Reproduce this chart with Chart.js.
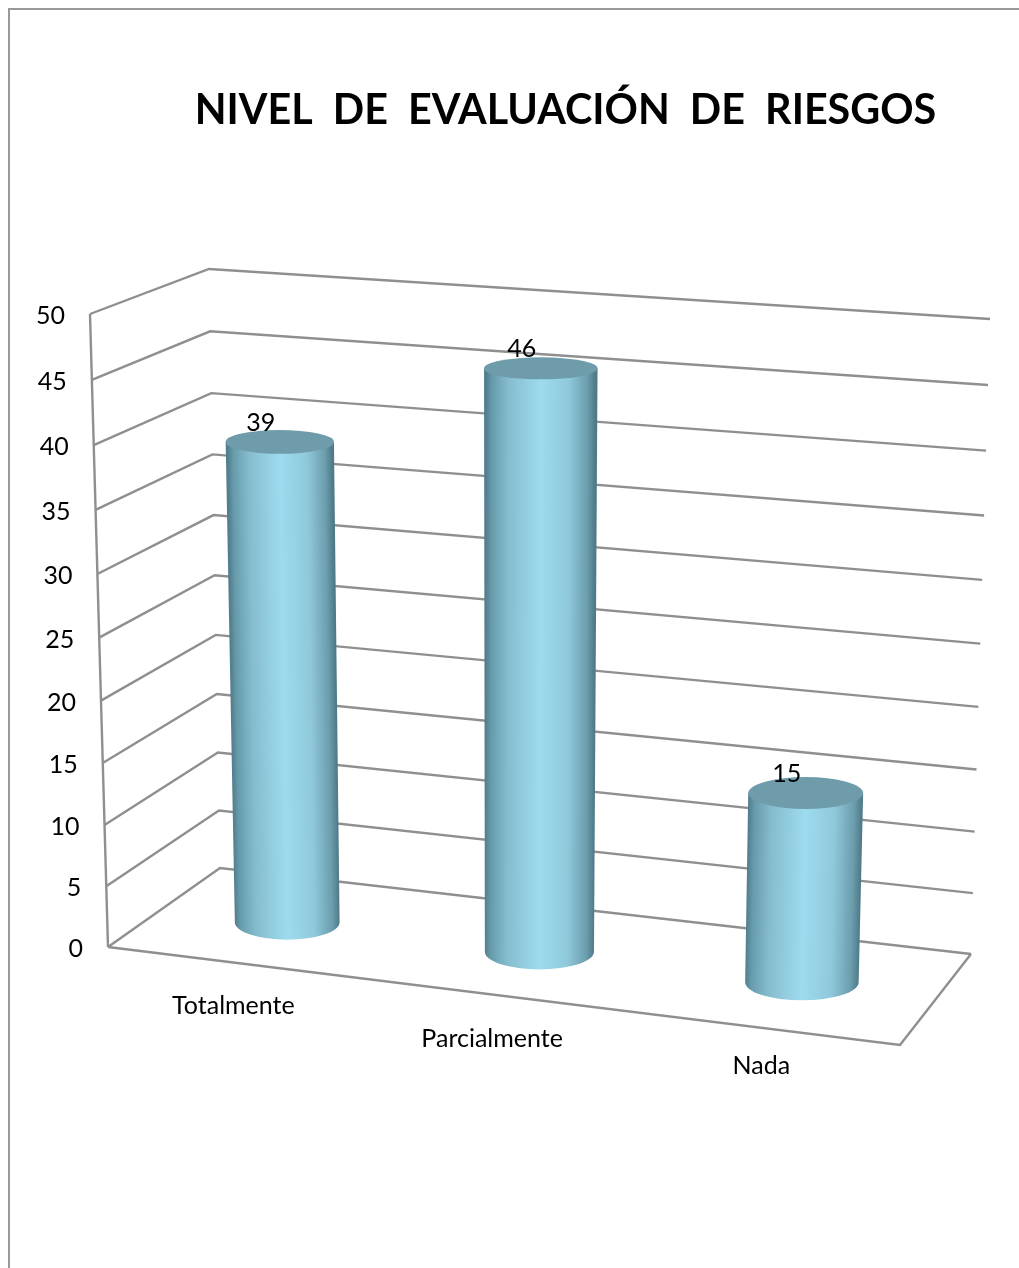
<!DOCTYPE html>
<html>
<head>
<meta charset="utf-8">
<title>Nivel de evaluación de riesgos</title>
<script src="https://cdn.jsdelivr.net/npm/chart.js@4/dist/chart.umd.min.js"></script>
<style>
    html, body { margin: 0; background: #fff; }
    #wrap { position: relative; width: 1019px; height: 1268px; overflow: hidden; }
    #frame { position: absolute; left: 8px; top: 8px; right: 0; bottom: 0; border-left: 2px solid #999; border-top: 2px solid #999; }
    canvas { position: absolute; left: 0; top: 0; }
</style>
</head>
<body>
<div id="wrap">
    <div id="frame"></div>
    <canvas id="riesgos" width="1019" height="1268"></canvas>
</div>
<script>
var chartTitle = 'NIVEL  DE  EVALUACIÓN  DE  RIESGOS';
var categories = ['Totalmente', 'Parcialmente', 'Nada'];
var values = [39, 46, 15];
var yTickValues = [0, 5, 10, 15, 20, 25, 30, 35, 40, 45, 50];

var textFont = 'Lato, "Open Sans", sans-serif';
var gridColor = '#8f8f8f';

// corners of the 3d box, [bottom, top]
var frontLeft = [[108, 947], [90, 314]];
var backLeft = [[220, 868], [209, 269]];
var backRight = [[971, 954], [990, 319]];
var frontRight = [900, 1045];
// plane the cylinders stand in, half way into the box
var barLeft = [[165, 908], [150, 293]];
var barRight = [[937, 998], [956, 339]];
// how far each category label sits under the floor edge
var categoryDrop = [43, 44, 38];

function mix(a, b, k) {
    return [a[0] + (b[0] - a[0]) * k, a[1] + (b[1] - a[1]) * k];
}
// the walls are foreshortened a little towards the floor
function warpHeight(t) {
    return t - 0.045 * t * (1 - t);
}
function warpAcross(f) {
    return f - 0.06 * f * (1 - f);
}
function onEdge(edge, t) {
    return mix(edge[0], edge[1], warpHeight(t));
}
function heightOf(chart, pixel) {
    var area = chart.chartArea;
    return (area.bottom - pixel) / (area.bottom - area.top);
}
function barPoint(f, t) {
    var g = warpAcross(f);
    return mix(onEdge(barLeft, t), onEdge(barRight, t), g);
}
function line(ctx, a, b) {
    ctx.beginPath();
    ctx.moveTo(a[0], a[1]);
    ctx.lineTo(b[0], b[1]);
    ctx.stroke();
}
// flatter ellipse higher up, as seen from above the box
function ellipseHeight(y) {
    return 6.8 + 0.0115 * y;
}

var boxPlugin = {
    id: 'box3d',
    beforeDatasetsDraw: function (chart) {
        var ctx = chart.ctx;
        var yAxis = chart.scales.y;
        ctx.save();
        ctx.strokeStyle = gridColor;
        ctx.lineWidth = 2.4;
        ctx.lineJoin = 'miter';

        // floor
        ctx.beginPath();
        ctx.moveTo(frontLeft[0][0], frontLeft[0][1]);
        ctx.lineTo(frontRight[0], frontRight[1]);
        ctx.lineTo(backRight[0][0], backRight[0][1]);
        ctx.stroke();

        // front edge of the left wall
        line(ctx, frontLeft[0], frontLeft[1]);

        // grid lines, left wall then back wall
        yAxis.ticks.forEach(function (tick) {
            var t = heightOf(chart, yAxis.getPixelForValue(tick.value));
            var a = onEdge(frontLeft, t);
            var b = onEdge(backLeft, t);
            var c = onEdge(backRight, t);
            ctx.beginPath();
            ctx.moveTo(a[0], a[1]);
            ctx.lineTo(b[0], b[1]);
            ctx.lineTo(c[0], c[1]);
            ctx.stroke();
        });

        // y tick labels follow the slanted edge
        ctx.fillStyle = '#000';
        ctx.font = '25px ' + textFont;
        ctx.textAlign = 'right';
        ctx.textBaseline = 'middle';
        yAxis.ticks.forEach(function (tick) {
            var t = heightOf(chart, yAxis.getPixelForValue(tick.value));
            var a = onEdge(frontLeft, t);
            ctx.fillText(String(tick.value), a[0] - 25, a[1] + 2);
        });

        // category labels under the front edge of the floor
        var xAxis = chart.scales.x;
        ctx.textAlign = 'center';
        categories.forEach(function (name, i) {
            var f = (xAxis.getPixelForValue(i) - chart.chartArea.left) / chart.chartArea.width;
            var p = mix(frontLeft[0], frontRight, warpAcross(f));
            ctx.fillText(name, p[0], p[1] + categoryDrop[i]);
        });
        ctx.restore();
    },
    afterDatasetsDraw: function (chart) {
        var ctx = chart.ctx;
        var area = chart.chartArea;
        var meta = chart.getDatasetMeta(0);
        ctx.save();
        meta.data.forEach(function (bar, i) {
            var f = (bar.x - area.left) / area.width;
            var half = bar.width / 2 / area.width;
            var tTop = heightOf(chart, bar.y);
            var tBase = heightOf(chart, bar.base);

            var topL = barPoint(f - half, tTop), topR = barPoint(f + half, tTop);
            var baseL = barPoint(f - half, tBase), baseR = barPoint(f + half, tBase);
            var topC = barPoint(f, tTop), baseC = barPoint(f, tBase);
            var topRx = (topR[0] - topL[0]) / 2, baseRx = (baseR[0] - baseL[0]) / 2;
            var topRy = ellipseHeight(topC[1]), baseRy = ellipseHeight(baseC[1]);

            // body
            var grad = ctx.createLinearGradient(baseC[0] - baseRx, 0, baseC[0] + baseRx, 0);
            grad.addColorStop(0, '#537e8d');
            grad.addColorStop(0.05, '#659aaa');
            grad.addColorStop(0.2, '#85bccd');
            grad.addColorStop(0.5, '#9edbef');
            grad.addColorStop(0.76, '#8fc8da');
            grad.addColorStop(0.93, '#6b9dad');
            grad.addColorStop(1, '#4f7a88');
            ctx.beginPath();
            ctx.moveTo(topC[0] - topRx, topC[1]);
            ctx.lineTo(baseC[0] - baseRx, baseC[1]);
            ctx.ellipse(baseC[0], baseC[1], baseRx, baseRy, 0, Math.PI, 0, true);
            ctx.lineTo(topC[0] + topRx, topC[1]);
            ctx.closePath();
            // shear the shading so it leans with the cylinder
            var lean = (topC[0] - baseC[0]) / (topC[1] - baseC[1]);
            ctx.save();
            ctx.transform(1, 0, lean, 1, -lean * baseC[1], 0);
            ctx.fillStyle = grad;
            ctx.fill();
            ctx.restore();

            // lid
            ctx.fillStyle = '#6f9cab';
            ctx.beginPath();
            ctx.ellipse(topC[0], topC[1], topRx, topRy, 0, 0, Math.PI * 2);
            ctx.fill();

            // value label
            ctx.fillStyle = '#000';
            ctx.font = '25px ' + textFont;
            ctx.textAlign = 'center';
            ctx.textBaseline = 'middle';
            ctx.fillText(String(values[i]), topC[0] - 19, topC[1] - 19);
        });
        ctx.restore();
    }
};

var ctx = document.getElementById('riesgos').getContext('2d');
new Chart(ctx, {
    type: 'bar',
    data: {
        labels: categories,
        datasets: [
            {
                label: 'Nivel',
                data: values,
                // the cylinders are painted by boxPlugin from these bars
                backgroundColor: 'rgba(0,0,0,0)',
                categoryPercentage: 1,
                barPercentage: 0.424
            }
        ]
    },
    options: {
        responsive: false,
        animation: false,
        layout: { padding: { left: 112, top: 0, right: 0, bottom: 320 } },
        plugins: {
            legend: { display: false },
            tooltip: { enabled: false },
            title: {
                display: true,
                text: chartTitle,
                color: '#000',
                font: { family: textFont, size: 41.3, weight: 'bold' },
                padding: { top: 86, bottom: 178 }
            }
        },
        scales: {
            x: { display: false, grid: { display: false } },
            y: {
                display: false,
                min: yTickValues[0],
                max: yTickValues[yTickValues.length - 1],
                ticks: { stepSize: yTickValues[1] - yTickValues[0] }
            }
        }
    },
    plugins: [boxPlugin]
});
</script>
</body>
</html>
